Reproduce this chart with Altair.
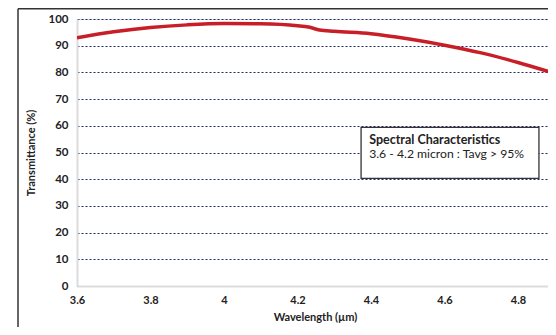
import altair as alt
import pandas as pd

# Curve data
wavelength = [3.6, 3.7, 3.8, 3.9, 4.0, 4.1, 4.2, 4.23, 4.26, 4.3, 4.4, 4.5, 4.6, 4.7, 4.8, 4.9]
transmittance = [93.0, 95.2, 96.8, 97.8, 98.3, 98.2, 97.5, 97.0, 95.9, 95.4, 94.5, 92.6, 90.2, 87.3, 83.7, 79.6]

y_ticks = [0, 10, 20, 30, 40, 50, 60, 70, 80, 90, 100]
x_ticks = [3.6, 3.8, 4.0, 4.2, 4.4, 4.6, 4.8]

box_title = "Spectral Characteristics"
box_text = "3.6 - 4.2 micron : Tavg > 95%"

FONT = "Lato"
W, H = 471, 267

df = pd.DataFrame({"wl": wavelength, "t": transmittance})

x_scale = alt.Scale(domain=[3.6, 3.6 + W / 367.5], nice=False, zero=False)
y_scale = alt.Scale(domain=[0, 100], nice=False)

x_axis = alt.Axis(values=x_ticks, title="Wavelength (µm)", grid=False,
                  ticks=False, domainColor="#dcdcdc", domainWidth=2,
                  labelFont=FONT, labelFontWeight="bold", labelFontSize=11,
                  labelColor="#222", labelPadding=8, labelOverlap=False,
                  labelFlush=False,
                  labelExpr="format(datum.value, '.1~f')",
                  titleFont=FONT, titleFontWeight="bold", titleFontSize=11,
                  titleColor="#222", titlePadding=6, titleX=238,
                  zindex=1)
y_axis = alt.Axis(values=y_ticks, title="Transmittance (%)", grid=True,
                  gridColor="#1f2a6b", gridDash=[2, 2], gridWidth=1,
                  ticks=False, domainColor="#dcdcdc", domainWidth=2,
                  labelFont=FONT, labelFontWeight="bold", labelFontSize=11.5,
                  labelColor="#222", labelPadding=9, labelOverlap=False,
                  labelFlush=False,
                  titleFont=FONT, titleFontWeight="bold", titleFontSize=11,
                  titleColor="#222", titlePadding=11)

X = lambda f: alt.X(f, scale=x_scale, axis=x_axis)
Y = lambda f: alt.Y(f, scale=y_scale, axis=y_axis)

line = alt.Chart(df).mark_line(
    color="#c81e28", strokeWidth=3.5, interpolate="monotone", clip=True
).encode(x=X("wl:Q"), y=Y("t:Q"))

box_df = pd.DataFrame({"wl": [4.373], "x2": [4.857], "t": [59.4], "y2": [40.3]})
box = alt.Chart(box_df).mark_rect(fill="white", stroke="#333", strokeWidth=1.3).encode(
    x=X("wl:Q"), x2="x2:Q", y=Y("t:Q"), y2="y2:Q",
)

txt_df = pd.DataFrame({"wl": [4.395, 4.395], "t": [53.3, 47.8],
                       "label": [box_title, box_text]})
t1 = alt.Chart(txt_df.iloc[[0]]).mark_text(
    align="left", baseline="alphabetic", font=FONT, fontSize=12.5, fontWeight="bold", color="#222"
).encode(x=X("wl:Q"), y=Y("t:Q"), text="label:N")
t2 = alt.Chart(txt_df.iloc[[1]]).mark_text(
    align="left", baseline="alphabetic", font=FONT, fontSize=12.2, color="#222"
).encode(x=X("wl:Q"), y=Y("t:Q"), text="label:N")

frame_top = alt.Chart(pd.DataFrame({"a": [0]})).mark_rule(color="#333", strokeWidth=1.5).encode(
    x=alt.value(-59), x2=alt.value(W + 20), y=alt.value(-10.2)
)
frame_left = alt.Chart(pd.DataFrame({"a": [0]})).mark_rule(color="#333", strokeWidth=1.5).encode(
    x=alt.value(-59), y=alt.value(-10.2), y2=alt.value(H + 60)
)

chart = alt.layer(line, box, t1, t2, frame_top, frame_left).properties(
    width=W, height=H,
    autosize=alt.AutoSizeParams(type="none"),
    padding={"left": 69, "top": 11, "right": 0, "bottom": 41},
).configure_view(stroke=None).configure(background="white")

chart.save("out.html", embed_options={"renderer": "svg", "actions": False})
